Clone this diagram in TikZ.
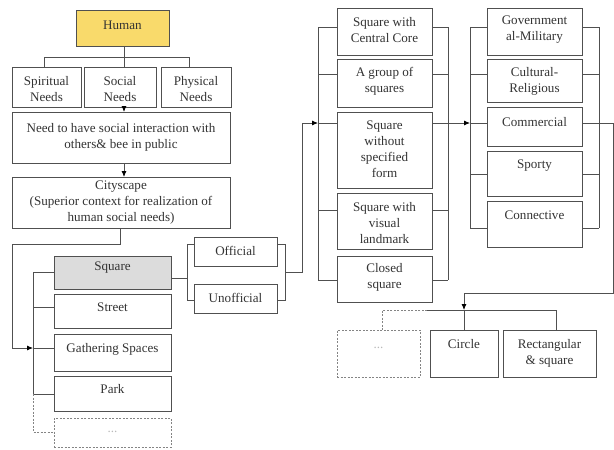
\documentclass[tikz,border=0pt]{standalone}
\usepackage{fontspec}
\setmainfont{Liberation Serif}
\newfontfamily\serifx{Liberation Serif}
\usetikzlibrary{arrows.meta}
\definecolor{ln}{HTML}{505050}
\definecolor{txtc}{HTML}{333333}
\definecolor{humanfill}{HTML}{F9DA6B}
\definecolor{squarefill}{HTML}{DCDCDC}
\newcommand\mybox[8][]{%
  \node[bx,#1,minimum width={(#5-#3)*1pt},minimum height={(#6-#4)*1pt}] (#2) at ({(#3+#5)/2},{(#4+#6)/2}) {};
  \node[tx] (#2t) at ({(#3+#5)/2},#7) {#8};}
\begin{document}
\begin{tikzpicture}[x=1pt,y=-1pt,
  bx/.style={draw=ln, line width=0.9pt, inner sep=0pt, outer sep=0pt},
  dbx/.style={draw=ln!70, line width=0.9pt, dash pattern=on 2pt off 1.5pt},
  tx/.style={text=txtc, align=center, inner sep=0pt, font=\serifx\fontsize{13.1}{16}\selectfont},
  cn/.style={draw=ln, line width=0.8pt},
  arr/.style={cn, -{Latex[length=6pt,width=5pt,color=black]}},
  dsh/.style={draw=ln!70, line width=0.8pt, dash pattern=on 2pt off 1.5pt}]
\useasboundingbox (0,0) rectangle (614,450);
% left part
\mybox[fill=humanfill]{human}{76}{10}{169}{46}{25}{Human}
\mybox{spir}{12}{67}{81}{107}{89}{Spiritual\\Needs}
\mybox{social}{84}{67}{156}{107}{89}{Social\\Needs}
\mybox{phys}{161}{67}{231}{107}{89}{Physical\\Needs}
\mybox{need}{12}{112}{230}{163}{137.5}{Need to have social interaction with\\others\& bee in public}
\mybox{city}{12}{177}{230}{228}{203}{Cityscape\\(Superior context for realization of\\human social needs)}
\mybox[fill=squarefill]{square}{54}{256}{171}{289}{268}{Square}
\mybox{street}{54}{294}{171}{328}{307}{Street}
\mybox{gath}{54}{334}{171}{371}{349}{Gathering Spaces}
\mybox{park}{54}{376}{171}{411}{389}{Park}
\node[dbx,minimum width=117pt,minimum height=29pt] (dashA) at (112.5,432.5) {};
\node[tx,text=ln!40] (dashAt) at (112.5,432) {...};
\mybox{official}{194}{237}{277}{266}{251}{Official}
\mybox{unoff}{194}{284}{277}{313}{298}{Unofficial}
% middle column
\mybox{core}{337}{8}{432}{55}{30}{Square with\\Central Core}
\mybox{group}{337}{59}{432}{107}{81}{A group of\\squares}
\mybox{without}{337}{112}{432}{188}{149}{Square\\without\\specified\\form}
\mybox{landmark}{337}{193}{432}{249}{223}{Square with\\visual\\landmark}
\mybox{closed}{337}{256}{432}{302}{277}{Closed\\square}
% right column
\mybox{gov}{487}{8}{582}{55}{30}{Government\\al-Military}
\mybox{cult}{487}{59}{582}{102}{81}{Cultural-\\Religious}
\mybox{comm}{487}{107}{582}{146}{122}{Commercial}
\mybox{sport}{487}{151}{582}{196}{166}{Sporty}
\mybox{conn}{487}{201}{582}{247}{215}{Connective}
% bottom row
\node[dbx,minimum width=83pt,minimum height=47pt] (dashB) at (378.5,353.5) {};
\node[tx,text=ln!40] (dashBt) at (378.5,348) {...};
\mybox{circ}{430}{330}{498}{377}{344}{Circle}
\mybox{rect}{503}{330}{596}{377}{353}{Rectangular\\\& square}
% connectors: top
\draw[cn] (human.south -| 124,0) -- (124,57);
\draw[cn] (spir.north -| 44,0) -- (44,57) -- (189,57) -- (phys.north -| 189,0);
\draw[cn] (124,57) -- (social.north -| 124,0);
\draw[arr] (social.south -| 124,0) -- (need.north -| 124,0);
\draw[arr] (need.south -| 124,0) -- (city.north -| 124,0);
\draw[cn] (city.south -| 120,0) -- (120,244) -- (12,244) -- (12,348);
\draw[arr] (12,348) -- (33,348);
\draw[cn] (33,272) -- (33,394);
\draw[cn] (33,272) -- (square.west |- 0,272);
\draw[cn] (33,307) -- (street.west |- 0,307);
\draw[cn] (33,348) -- (gath.west |- 0,348);
\draw[cn] (33,394) -- (park.west |- 0,394);
\draw[dsh] (33,394) -- (33,432) -- (dashA.west |- 0,432);
% square -> official/unofficial
\draw[cn] (square.east |- 0,278) -- (187,278);
\draw[cn] (official.west |- 0,244) -- (187,244) -- (187,300) -- (unoff.west |- 0,300);
\draw[cn] (official.east |- 0,244) -- (285,244) -- (285,300) -- (unoff.east |- 0,300);
\draw[cn] (285,272) -- (302,272) -- (302,123);
\draw[arr] (302,123) -- (318,123);
% middle buses
\draw[cn] (318,27) -- (318,280);
\draw[cn] (318,27) -- (core.west |- 0,27);
\draw[cn] (318,74) -- (group.west |- 0,74);
\draw[cn] (318,123) -- (without.west |- 0,123);
\draw[cn] (318,210) -- (landmark.west |- 0,210);
\draw[cn] (318,280) -- (closed.west |- 0,280);
\draw[cn] (448,27) -- (448,280);
\draw[cn] (core.east |- 0,27) -- (448,27);
\draw[cn] (group.east |- 0,74) -- (448,74);
\draw[cn] (without.east |- 0,123) -- (448,123);
\draw[cn] (landmark.east |- 0,210) -- (448,210);
\draw[cn] (closed.east |- 0,280) -- (448,280);
\draw[arr] (448,123) -- (470,123);
% right buses
\draw[cn] (470,27) -- (470,228);
\draw[cn] (470,27) -- (gov.west |- 0,27);
\draw[cn] (470,74) -- (cult.west |- 0,74);
\draw[cn] (470,123) -- (comm.west |- 0,123);
\draw[cn] (470,174) -- (sport.west |- 0,174);
\draw[cn] (470,228) -- (conn.west |- 0,228);
\draw[cn] (599,27) -- (599,228);
\draw[cn] (gov.east |- 0,27) -- (599,27);
\draw[cn] (cult.east |- 0,74) -- (599,74);
\draw[cn] (comm.east |- 0,123) -- (599,123);
\draw[cn] (sport.east |- 0,174) -- (599,174);
\draw[cn] (conn.east |- 0,228) -- (599,228);
% to bottom row
\draw[cn] (599,123) -- (613,123) -- (613,293) -- (464,293);
\draw[arr] (464,293) -- (464,310);
\draw[cn] (464,310) -- (circ.north -| 464,0);
\draw[cn] (427,310) -- (556,310) -- (rect.north -| 556,0);
\draw[dsh] (427,310) -- (382,310) -- (dashB.north -| 382,0);
\end{tikzpicture}
\end{document}
